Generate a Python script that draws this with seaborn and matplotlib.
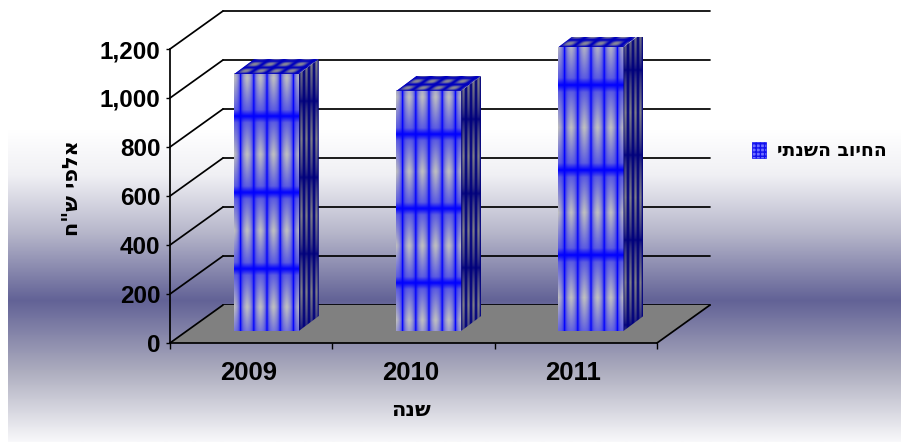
import numpy as np
import pandas as pd
import matplotlib
matplotlib.use("Agg")
import matplotlib.pyplot as plt
import seaborn as sns
from matplotlib.patches import Patch, Polygon
from matplotlib.transforms import Affine2D, IdentityTransform

years = ["2009", "2010", "2011"]
charge = [1049, 980, 1159]
y_ticks = [0, 200, 400, 600, 800, 1000, 1200]
y_labels = ["0", "200", "400", "600", "800", "1,000", "1,200"]
series_name = "החיוב השנתי"
x_title = "שנה"
y_title = "אלפי ש\"ח"

# texture layout of each bar: distance of first band from the top, band spacing
band_first = [43, 44, 38]
band_step = [76, 74, 85]

W, H = 901, 442
sns.set_theme(style="white")
plt.rcParams["font.family"] = ["Liberation Sans", "DejaVu Sans"]
plt.rcParams["font.weight"] = "bold"
plt.rcParams["text.color"] = "black"
plt.rcParams["xtick.labelcolor"] = "black"
plt.rcParams["ytick.labelcolor"] = "black"
fig = plt.figure(figsize=(W / 100, H / 100), dpi=100, facecolor="white")


def box(l, t, r, b):
    return [l / W, 1 - b / H, (r - l) / W, (b - t) / H]


def visual(s):
    return s[::-1]


# background gradient
bg = fig.add_axes(box(8, 0, W, H), zorder=0)
ys = np.arange(H)
stops = [0, 130, 175, 230, 300, 370, 441]
shade = np.stack([
    np.interp(ys, stops, [255, 255, 240, 185, 98, 172, 248]),
    np.interp(ys, stops, [255, 255, 240, 185, 98, 172, 248]),
    np.interp(ys, stops, [255, 255, 244, 204, 150, 190, 250]),
], axis=1)[:, None, :] / 255
bg.imshow(shade, aspect="auto", interpolation="bilinear")
bg.axis("off")

# back wall with gridlines
wall = fig.add_axes(box(223, 11, 710, 305), zorder=1)
wall.patch.set_alpha(0)
wall.set_xlim(-0.5, 2.5)
wall.set_ylim(0, 1200)
wall.set_yticks(y_ticks)
wall.set_xticks([])
wall.tick_params(left=False, labelleft=False)
wall.grid(axis="y", color="black", lw=1.25)
for gl in wall.get_ygridlines():
    gl.set_clip_on(False)
sns.despine(ax=wall, left=True, bottom=True)

# front axes: ticks, floor and the diagonal wall lines
ax = fig.add_axes(box(170, 49, 657, 343), zorder=2)
ax.patch.set_alpha(0)
ax.set_xlim(-0.5, 2.5)
ax.set_ylim(0, 1200)
dx = 53 / 487 * 3
dy = 38 / 294 * 1200
ax.add_patch(Polygon([(-0.5, 0), (2.5, 0), (2.5 + dx, dy), (-0.5 + dx, dy)],
                     closed=True, fc="#808080", ec="none", clip_on=False, zorder=0))
ax.plot([2.5, 2.5 + dx], [0, dy], color="black", lw=1.25, clip_on=False, zorder=1)
for v in y_ticks:
    ax.plot([-0.5, -0.5 + dx], [v, v + dy], color="black", lw=1.25, clip_on=False, zorder=1)
ax.set_yticks(y_ticks, y_labels, fontsize=17.5, fontweight="bold")
ax.set_xticks([-0.5, 0.5, 1.5, 2.5], ["", "", "", ""])
label_shift = 3 / (487 / 3)
ax.set_xticks([i - label_shift for i in range(len(years))], years, minor=True, fontsize=18.5, fontweight="bold")
ax.tick_params(axis="x", which="major", length=4, width=1, color="black", bottom=True)
ax.tick_params(axis="x", which="minor", length=0, pad=13, bottom=True)
ax.tick_params(axis="y", length=3, width=1, color="black", left=True, pad=4)
sns.despine(ax=ax)
for s in ("left", "bottom"):
    ax.spines[s].set_color("black")
    ax.spines[s].set_linewidth(1.25)

# bars
bar_ax = fig.add_axes(box(185, 37, 672, 331), zorder=3)
bar_ax.patch.set_alpha(0)
table = pd.DataFrame({"year": years, "charge": charge})
sns.barplot(data=table, x="year", y="charge", ax=bar_ax, width=0.402, color="blue", saturation=1)
bar_ax.set_xlim(-0.5, 2.5)
bar_ax.set_ylim(0, 1200)
bar_ax.axis("off")
fig.canvas.draw()

DX, DY = 20, 15
blue = np.array([0, 0, 255.0])
light = np.array([192, 192, 192.0])
navy = np.array([0, 0, 125.0])
side_gray = np.array([125, 125, 135.0])


def tile_phase(rows, first, step):
    """0 on a horizontal band, 1 half way between two bands."""
    pos = (rows - first) / step
    return np.abs(pos - np.round(pos)) * 2


for patch, first, step in zip(list(bar_ax.patches), band_first, band_step):
    ext = patch.get_window_extent()
    x0, x1, y0, y1 = ext.x0, ext.x1, ext.y0, ext.y1
    w, h = int(round(x1 - x0)), int(round(y1 - y0))
    disp = IdentityTransform()

    # front face: grey diamonds on blue
    cols = np.arange(w) + 0.5
    rows = np.arange(h) + 0.5
    pos = cols / 13
    c = np.abs(pos - np.round(pos)) * 2
    v = tile_phase(rows, first, step)
    c2, v2 = c[None, :], v[:, None]
    m = np.clip(v2 * 6, 0, 1) * 0.38 * (1 - c2 ** 4) + 0.64 * v2 ** 1.0 * (1 - c2) ** 0.55
    m = np.clip(m, 0, 1)[..., None]
    img = (blue + (light - blue) * m) / 255
    bar_ax.imshow(np.clip(img, 0, 1), extent=(x0, x1, y0, y1), transform=disp, origin="upper",
                  aspect="auto", interpolation="bilinear", clip_on=False, zorder=5)

    # side face
    sh = h + DY
    cols = np.arange(DX) + 0.5
    rows = np.arange(sh) + 0.5
    stripe = np.cos(np.pi * (cols - 2.5) / 5) ** 2
    v = tile_phase(rows, first, step) ** 0.55
    m = (stripe[None, :] ** 0.9 * v[:, None])[..., None]
    img = (navy + (side_gray - navy) * m) / 255
    art = bar_ax.imshow(np.clip(img, 0, 1), extent=(x1, x1 + DX, y0, y1 + DY), transform=disp,
                        origin="upper", aspect="auto", interpolation="bilinear", zorder=5)
    art.set_clip_path(Polygon([(x1, y0), (x1 + DX, y0 + DY), (x1 + DX, y1 + DY), (x1, y1)],
                              closed=True, transform=disp))

    # top face, a unit texture sheared on to the parallelogram
    n = 120
    g = (np.arange(n) + 0.5) / n
    cu = np.abs(np.sin(np.pi * g * 4.3))
    cv = np.abs(np.sin(np.pi * g * 2.3))
    m = (np.clip(cu[None, :] * 1.3 - 0.25, 0, 1) * np.clip(cv[:, None] * 1.3 - 0.25, 0, 1))[..., None]
    img = (np.array([0, 0, 190.0]) + (np.array([135, 135, 150.0]) - np.array([0, 0, 190.0])) * m) / 255
    shear = Affine2D.from_values(x1 - x0, 0, DX, DY, x0, y1)
    rgba = np.dstack([np.clip(img, 0, 1), np.ones((n, n))])
    art = bar_ax.imshow(rgba, extent=(0, 1, 0, 1), transform=shear, origin="lower",
                        aspect="auto", interpolation="bilinear", zorder=5)
    art.set_clip_path(Polygon([(x0, y1), (x1, y1), (x1 + DX, y1 + DY), (x0 + DX, y1 + DY)],
                              closed=True, transform=disp))
    patch.set_visible(False)

bar_ax.set_xlim(-0.5, 2.5)
bar_ax.set_ylim(0, 1200)

# titles
fig.text(72 / W, 1 - 188 / H, visual(y_title), rotation=90, ha="center", va="center",
         fontsize=15, fontweight="bold", family=["DejaVu Sans"], color="black", zorder=10)
fig.text(411 / W, 1 - 410 / H, visual(x_title), ha="center", va="center",
         fontsize=15, fontweight="bold", family=["DejaVu Sans"], color="black", zorder=10)

# legend
handle = Patch(facecolor="#7070ff", edgecolor="#1010ee", hatch="++++", lw=0.5, label=visual(series_name))
fig.legend(handles=[handle], loc="center left", bbox_to_anchor=(752 / W, 1 - 151 / H),
           bbox_transform=fig.transFigure, frameon=False, labelcolor="black",
           prop={"family": ["DejaVu Sans"], "weight": "bold", "size": 13.5}, handlelength=0.75,
           handleheight=0.9, handletextpad=0.6, borderpad=0, borderaxespad=0)

fig.savefig("out.png", dpi=100)
